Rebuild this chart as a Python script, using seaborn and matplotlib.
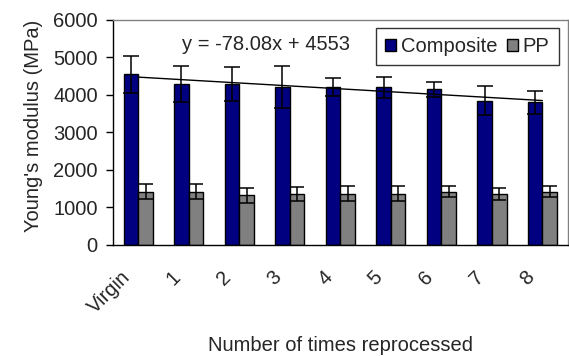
import pandas as pd
import numpy as np
import matplotlib
matplotlib.use("Agg")
import matplotlib.pyplot as plt
import seaborn as sns

# ---- data ----
categories = ["Virgin", "1", "2", "3", "4", "5", "6", "7", "8"]
composite = [4550, 4300, 4300, 4200, 4200, 4200, 4150, 3850, 3800]
composite_err = [500, 480, 450, 560, 240, 290, 200, 390, 300]
pp = [1420, 1420, 1320, 1360, 1360, 1360, 1420, 1360, 1420]
pp_err = [200, 200, 195, 195, 200, 200, 150, 160, 150]
trend_slope, trend_icpt = -78.08, 4553

df = pd.DataFrame({
    "cat": categories * 2,
    "val": composite + pp,
    "series": ["Composite"] * len(categories) + ["PP"] * len(categories),
})

sns.set_style("white")
plt.rcParams["font.family"] = ["Liberation Sans", "DejaVu Sans"]
plt.rcParams["font.size"] = 14.5

fig = plt.figure(figsize=(5.69, 3.56), dpi=100)
ax = fig.add_axes([0.1986, 0.312, 0.799, 0.632])

sns.barplot(data=df, x="cat", y="val", hue="series", order=categories,
            palette={"Composite": "#000080", "PP": "#808080"}, saturation=1,
            width=0.58, gap=0, edgecolor="black", linewidth=1,
            errorbar=None, ax=ax, zorder=2)

# error bars at bar centres
for cont, errs, cap in zip(ax.containers, [composite_err, pp_err], [6, 4.7]):
    xs = [b.get_x() + b.get_width() / 2 for b in cont]
    ys = [b.get_height() for b in cont]
    ax.errorbar(xs, ys, yerr=errs, fmt="none", ecolor="black",
                elinewidth=1.1, capsize=cap, capthick=1.1, zorder=3)

# linear trendline (Excel x = 1..9)
xi = np.arange(len(categories))
ax.plot(xi, trend_slope * (xi + 1) + trend_icpt, color="black", lw=1, zorder=4)
ax.text(0.86, 5333, "y = -78.08x + 4553", va="center", ha="left")

ax.set_xlim(-0.5, len(categories) - 0.5)
ax.set_ylim(0, 6000)
ax.set_yticks(range(0, 6001, 1000))
# labels sit a little left of the category centre, as in Excel
ax.set_xticks(xi - 0.22)
ax.set_xticklabels(categories, rotation=45, ha="right", va="center",
                   rotation_mode="anchor")
ax.set_xticks(np.arange(-0.5, len(categories), 1), minor=True)
ax.tick_params(axis="x", which="major", length=0, pad=21)
ax.tick_params(axis="x", which="minor", length=5, width=1, color="black", direction="out")
ax.tick_params(axis="y", length=5, width=1, color="black", direction="out",
               left=True, pad=6)

for s in ["top", "right"]:
    ax.spines[s].set_color("#808080")
    ax.spines[s].set_linewidth(1)
for s in ["left", "bottom"]:
    ax.spines[s].set_color("black")
    ax.spines[s].set_linewidth(1)

ax.set_xlabel("Number of times reprocessed")
ax.xaxis.label.set_va("center")
ax.xaxis.set_label_coords(0.5, -0.445)
ax.set_ylabel("Young's modulus (MPa)")
ax.yaxis.set_label_coords(-0.154, 0.527)

leg = ax.legend(loc="upper right", bbox_to_anchor=(0.98, 0.965), ncol=2,
                frameon=True, fancybox=False, edgecolor="black",
                handlelength=0.55, handleheight=0.55, handletextpad=0.25,
                columnspacing=0.45, borderpad=0.45, borderaxespad=0)
leg.get_frame().set_linewidth(1)
for h in leg.legend_handles:
    h.set_edgecolor("black")

fig.savefig("out.png", dpi=100)
